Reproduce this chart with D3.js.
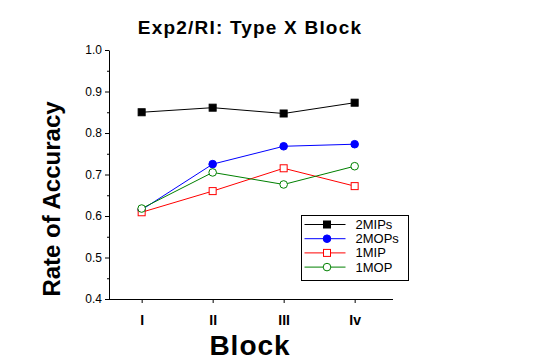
<!DOCTYPE html>
<html>
<head>
<meta charset="utf-8">
<script src="https://cdn.jsdelivr.net/npm/d3@7"></script>
<style>
  body { margin: 0; background: #fff; }
  svg { display: block; font-family: "Liberation Sans", Arial, sans-serif; }
</style>
</head>
<body>
<div id="chart"></div>
<script>
const blocks = ["I", "II", "III", "Iv"]
const mips2 = [0.850, 0.861, 0.847, 0.873]
const mops2 = [0.615, 0.725, 0.768, 0.773]
const mip1 = [0.609, 0.660, 0.715, 0.672]
const mop1 = [0.618, 0.705, 0.676, 0.720]
const yTicks = [0.4, 0.5, 0.6, 0.7, 0.8, 0.9, 1.0]
const yMinorTicks = [0.45, 0.55, 0.65, 0.75, 0.85, 0.95]

const seriesList = [
  { name: "2MIPs", values: mips2, color: "#000000", shape: "square", filled: true },
  { name: "2MOPs", values: mops2, color: "#0000ff", shape: "circle", filled: true },
  { name: "1MIP", values: mip1, color: "#ff0000", shape: "square", filled: false },
  { name: "1MOP", values: mop1, color: "#008000", shape: "circle", filled: false }
]

const svgWidth = 540
const svgHeight = 360

let margin = { top: 50, right: 147, bottom: 61, left: 109 }
let width = svgWidth - margin.left - margin.right
let height = svgHeight - margin.top - margin.bottom

let svg = d3
  .select("#chart")
  .append("svg")
  .attr("width", svgWidth)
  .attr("height", svgHeight)

let chartGroup = svg
  .append("g")
  .attr("transform", `translate(${margin.left}, ${margin.top})`)

let xScale = d3.scalePoint().domain(blocks).range([0, width]).padding(0.5).align(0.46)
let yScale = d3.scaleLinear().domain([0.4, 1.0]).range([height, 0])

// x axis
let xAxis = chartGroup
  .append("g")
  .attr("transform", `translate(0, ${height})`)
  .call(d3.axisBottom(xScale).tickSize(4).tickSizeOuter(0).tickPadding(12))
xAxis.select(".domain").attr("d", `M0,0.5H${width}`)
xAxis.selectAll("text")
  .attr("font-size", 14)
  .attr("font-weight", "bold")
  .attr("font-family", "Liberation Sans, Arial, sans-serif")

// y axis, major and minor ticks
chartGroup
  .append("g")
  .call(d3.axisLeft(yScale).tickValues(yMinorTicks).tickSize(2).tickFormat(""))
  .select(".domain").remove()

let yAxis = chartGroup
  .append("g")
  .call(d3.axisLeft(yScale).tickValues(yTicks).tickSize(4).tickSizeOuter(0).tickPadding(3).tickFormat(d3.format(".1f")))
yAxis.selectAll("text")
  .attr("font-size", 12)
  .attr("font-family", "Liberation Sans, Arial, sans-serif")

// lines and markers
let line = d3.line()
  .x((d, i) => xScale(blocks[i]))
  .y(d => yScale(d))

function drawMarker(g, s, x, y) {
  let fill = s.filled ? s.color : "#fff"
  if (s.shape === "square") {
    g.append("rect")
      .attr("x", x - 3.5).attr("y", y - 3.5)
      .attr("width", 7).attr("height", 7)
      .attr("fill", fill).attr("stroke", s.color)
  } else {
    g.append("circle")
      .attr("cx", x).attr("cy", y).attr("r", 3.8)
      .attr("fill", fill).attr("stroke", s.color)
  }
}

seriesList.forEach(s => {
  let g = chartGroup.append("g")
  g.append("path")
    .attr("d", line(s.values))
    .attr("fill", "none")
    .attr("stroke", s.color)
    .attr("stroke-width", 1)
  s.values.forEach((v, i) => drawMarker(g, s, xScale(blocks[i]), yScale(v)))
})

// legend
let legend = svg.append("g").attr("transform", "translate(301.5, 215.5)")
legend.append("rect")
  .attr("width", 107)
  .attr("height", 65)
  .attr("fill", "#fff")
  .attr("stroke", "#000")

seriesList.forEach((s, i) => {
  let y = 9 + i * 14.2
  let row = legend.append("g")
  row.append("line")
    .attr("x1", 3).attr("x2", 44)
    .attr("y1", y).attr("y2", y)
    .attr("stroke", s.color)
  drawMarker(row, s, 25.5, y)
  row.append("text")
    .attr("x", 54)
    .attr("y", y + 4.5)
    .attr("font-size", 13)
    .text(s.name)
})

// titles
svg.append("text")
  .attr("x", 250)
  .attr("y", 34)
  .attr("text-anchor", "middle")
  .attr("font-size", 19)
  .attr("font-weight", "bold")
  .attr("letter-spacing", 1.2)
  .text("Exp2/RI: Type X Block")

svg.append("text")
  .attr("x", 250)
  .attr("y", 355)
  .attr("text-anchor", "middle")
  .attr("font-size", 28)
  .attr("font-weight", "bold")
  .attr("letter-spacing", 1)
  .text("Block")

svg.append("text")
  .attr("transform", "translate(60, 199) rotate(-90)")
  .attr("text-anchor", "middle")
  .attr("font-size", 24)
  .attr("font-weight", "bold")
  .text("Rate of Accuracy")
</script>
</body>
</html>
